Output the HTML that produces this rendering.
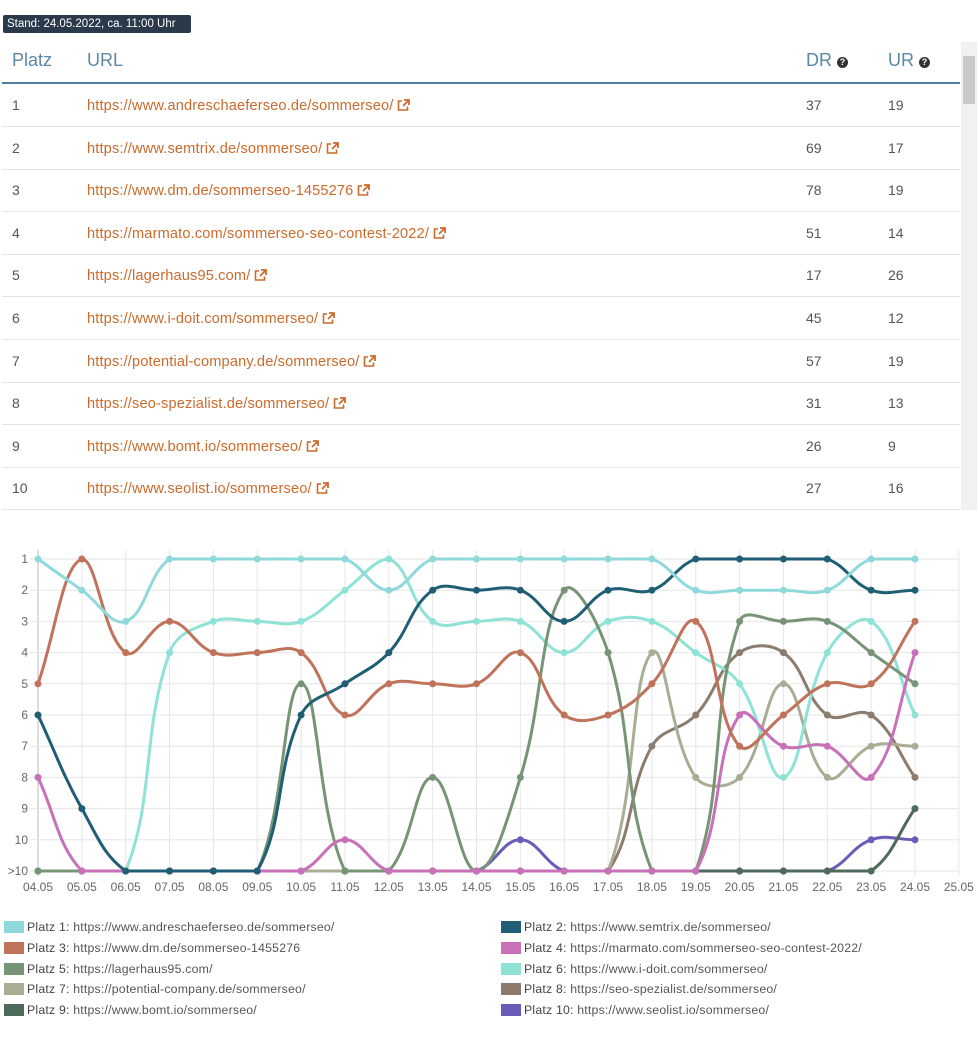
<!DOCTYPE html>
<html><head><meta charset="utf-8"><style>
body{margin:0;background:#fff;font-family:"Liberation Sans",sans-serif;width:978px;height:1047px;overflow:hidden;position:relative}
.badge{position:absolute;left:3px;top:15px;width:188px;height:18px;background:#2b3a4b;color:#fff;font-size:11.5px;line-height:18px;text-indent:4px;border-radius:2px}
.th{position:absolute;top:50px;font-size:18px;color:#5b88a8}
.hl{position:absolute;left:2px;top:82px;width:958px;height:2px;background:#4e7fa5}
.row{position:absolute;left:2px;width:958px;height:42px;border-bottom:1px solid #e3e3e3;font-size:14px;color:#555}
.row span{position:absolute;top:13px}
.row a{color:#cc6a2c;text-decoration:none;font-size:14.6px;letter-spacing:0.15px}
.sb{position:absolute;left:961px;top:42px;width:16px;height:468px;background:#f1f1f1}
.sb i{position:absolute;left:2px;top:14px;width:12px;height:48px;background:#c8c8c8}
.q{display:inline-block;width:11px;height:11px;border-radius:50%;background:#333;color:#fff;font-size:9px;line-height:11px;text-align:center;font-weight:bold;vertical-align:1px}
.lg{position:absolute;font-size:12.3px;color:#555;white-space:nowrap;letter-spacing:0.2px}
.lg b{font-weight:normal;color:#444}
.lg i{position:absolute;left:-23px;top:1px;width:20px;height:12px}
</style></head><body>
<div class="badge">Stand: 24.05.2022, ca. 11:00 Uhr</div>
<div class="th" style="left:12px">Platz</div>
<div class="th" style="left:87px">URL</div>
<div class="th" style="left:806px">DR <span class="q">?</span></div>
<div class="th" style="left:888px">UR <span class="q">?</span></div>
<div class="hl"></div>
<div id="rows"></div>
<div class="sb"><i></i></div>
<svg id="ch" width="978" height="900" style="position:absolute;left:0;top:0" xmlns="http://www.w3.org/2000/svg"></svg>
<div id="leg"></div>
<script>
var urls=["https://www.andreschaeferseo.de/sommerseo/","https://www.semtrix.de/sommerseo/","https://www.dm.de/sommerseo-1455276","https://marmato.com/sommerseo-seo-contest-2022/","https://lagerhaus95.com/","https://www.i-doit.com/sommerseo/","https://potential-company.de/sommerseo/","https://seo-spezialist.de/sommerseo/","https://www.bomt.io/sommerseo/","https://www.seolist.io/sommerseo/"];
var dr=[37,69,78,51,17,45,57,31,26,27],ur=[19,17,19,14,26,12,19,13,9,16];
var ic='<svg width="13" height="12" viewBox="0 0 13 12" style="vertical-align:-1px;margin-left:4px"><path d="M5 2H1.5v9h9V7.5" fill="none" stroke="#cc6a2c" stroke-width="1.6"/><path d="M7 1h5v5M12 1 6 7" fill="none" stroke="#cc6a2c" stroke-width="1.8"/></svg>';
var h="";for(var i=0;i<10;i++){h+='<div class="row" style="top:'+(84+i*42.6)+'px"><span style="left:10px">'+(i+1)+'</span><span style="left:85px"><a>'+urls[i]+'</a>'+ic+'</span><span style="left:804px">'+dr[i]+'</span><span style="left:886px">'+ur[i]+'</span></div>';}
document.getElementById("rows").innerHTML=h;
var cols=["#8fd9dc","#1f5e74","#c0735a","#c871b9","#789477","#8fe2d6","#a9ad93","#8b7c6e","#4d6a5a","#6a5bb9"];
var data=[
[1,2,3,1,1,1,1,1,2,1,1,1,1,1,1,2,2,2,2,1,1],
[6,9,11,11,11,11,6,5,4,2,2,2,3,2,2,1,1,1,1,2,2],
[5,1,4,3,4,4,4,6,5,5,5,4,6,6,5,3,7,6,5,5,3],
[8,11,11,11,11,11,11,10,11,11,11,11,11,11,11,11,6,7,7,8,4],
[11,11,11,11,11,11,5,11,11,8,11,8,2,4,11,11,3,3,3,4,5],
[11,11,11,4,3,3,3,2,1,3,3,3,4,3,3,4,5,8,4,3,6],
[11,11,11,11,11,11,11,11,11,11,11,11,11,11,4,8,8,5,8,7,7],
[11,11,11,11,11,11,11,11,11,11,11,11,11,11,7,6,4,4,6,6,8],
[11,11,11,11,11,11,11,11,11,11,11,11,11,11,11,11,11,11,11,11,9],
[11,11,11,11,11,11,11,11,11,11,11,10,11,11,11,11,11,11,11,10,10]];
var X0=38,DX=43.85,Y0=559,DY=31.2;
function X(i){return X0+i*DX}function Y(v){return Y0+(v-1)*DY}
var s="";
for(var i=0;i<=21;i++){s+='<line x1="'+X(i)+'" y1="550" x2="'+X(i)+'" y2="876" stroke="'+(i==0?'#bbb':'#e6e6e6')+'"/>';
var d=(i+4),lab=(d<10?"0":"")+d+".05";s+='<text x="'+X(i)+'" y="891" font-size="12" fill="#666" text-anchor="middle">'+lab+'</text>';}
for(var v=1;v<=11;v++){s+='<line x1="30" y1="'+Y(v)+'" x2="959" y2="'+Y(v)+'" stroke="#e6e6e6"/>';
s+='<text x="28" y="'+(Y(v)+4)+'" font-size="12" fill="#666" text-anchor="end">'+(v==11?">10":v)+'</text>';}
function path(a){var p=a.map(function(v,i){return[X(i),Y(v)]}),t=0.4,d="M"+p[0][0]+","+p[0][1];
var cp=p.map(function(q,i){var pr=p[Math.max(i-1,0)],nx=p[Math.min(i+1,p.length-1)];
var d01=Math.hypot(q[0]-pr[0],q[1]-pr[1]),d12=Math.hypot(nx[0]-q[0],nx[1]-q[1]);
var fa=d01/(d01+d12||1),fb=d12/(d01+d12||1);fa=t*fa;fb=t*fb;
return{p:[q[0]-fa*(nx[0]-pr[0]),q[1]-fa*(nx[1]-pr[1])],n:[q[0]+fb*(nx[0]-pr[0]),q[1]+fb*(nx[1]-pr[1])]};});
for(var i=1;i<p.length;i++){var y1=Math.min(Math.max(cp[i-1].n[1],Y(1)),Y(11)),y2=Math.min(Math.max(cp[i].p[1],Y(1)),Y(11));
d+=" C"+cp[i-1].n[0]+","+y1+" "+cp[i].p[0]+","+y2+" "+p[i][0]+","+p[i][1];}return d;}
for(var k=9;k>=0;k--){s+='<path d="'+path(data[k])+'" fill="none" stroke="'+cols[k]+'" stroke-width="3"/>';
data[k].forEach(function(v,i){s+='<circle cx="'+X(i)+'" cy="'+Y(v)+'" r="3.5" fill="'+cols[k]+'"/>';});}
document.getElementById("ch").innerHTML=s;
var lg="";for(var i=0;i<10;i++){var c=i%2,r=Math.floor(i/2);
lg+='<div class="lg" style="left:'+(c?524:27)+'px;top:'+(920+r*20.8)+'px"><i style="background:'+cols[i]+'"></i><b>Platz '+(i+1)+':</b> '+urls[i]+'</div>';}
document.getElementById("leg").innerHTML=lg;
</script>
</body></html>
